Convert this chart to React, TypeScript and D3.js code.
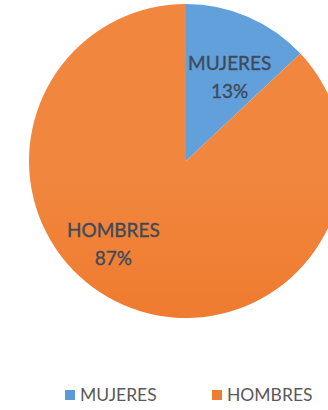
import React, { useEffect, useRef } from 'react';
import * as d3 from 'd3';

const categories = ['MUJERES', 'HOMBRES'];
const values = [13, 87];
const colors = ['#5B9BD5', '#ED7D31'];

const App: React.FC = () => {
  const svgRef = useRef<SVGSVGElement>(null);

  useEffect(() => {
    if (!svgRef.current) return;
    const svg = d3.select(svgRef.current);
    svg.selectAll('*').remove();

    const width = 328;
    const height = 410;
    const cx = 186;
    const cy = 161;
    const r = 157;

    svg.attr('viewBox', `0 0 ${width} ${height}`);

    // soft vertical gradients like the office chart
    const defs = svg.append('defs');
    const grads = [
      { id: 'g0', top: '#62A0DC', bottom: '#3E8CE0' },
      { id: 'g1', top: '#F1873F', bottom: '#EC6F1E' },
    ];
    grads.forEach(g => {
      const lg = defs.append('linearGradient')
        .attr('id', g.id)
        .attr('gradientUnits', 'userSpaceOnUse')
        .attr('x1', 0).attr('y1', cy - r)
        .attr('x2', 0).attr('y2', cy + r);
      lg.append('stop').attr('offset', '0%').attr('stop-color', g.top);
      lg.append('stop').attr('offset', '100%').attr('stop-color', g.bottom);
    });

    const data = categories.map((c, i) => ({ name: c, value: values[i] }));
    const pie = d3.pie<{ name: string; value: number }>()
      .sort(null)
      .value(d => d.value);
    const arcs = pie(data);

    const arc = d3.arc<d3.PieArcDatum<{ name: string; value: number }>>()
      .innerRadius(0)
      .outerRadius(r);

    const g = svg.append('g').attr('transform', `translate(${cx},${cy})`);

    g.selectAll('path')
      .data(arcs)
      .enter()
      .append('path')
      .attr('d', arc)
      .attr('fill', (d, i) => `url(#g${i})`);

    const total = d3.sum(values);
    const labelArc = d3.arc<d3.PieArcDatum<{ name: string; value: number }>>()
      .innerRadius(r * 0.62)
      .outerRadius(r * 0.62);

    // best-fit nudges, excel style
    const nudge = [[5, 0], [-34, -11]];
    arcs.forEach((a, i) => {
      let [lx, ly] = labelArc.centroid(a);
      lx += nudge[i][0];
      ly += nudge[i][1];
      const t = g.append('text')
        .attr('text-anchor', 'middle')
        .attr('font-family', 'Lato, "Open Sans", sans-serif')
        .attr('font-size', 19)
        .attr('fill', '#3E4A5A')
        .attr('stroke', '#3E4A5A')
        .attr('stroke-width', 0.35);
      t.append('tspan').attr('x', lx).attr('y', ly - 2).text(a.data.name);
      t.append('tspan').attr('x', lx).attr('y', ly + 26)
        .text(`${Math.round((a.data.value / total) * 100)}%`);
    });

    // legend
    const legend = svg.append('g').attr('transform', 'translate(0,401)');
    const items = [
      { x: 65, name: categories[0], color: colors[0] },
      { x: 212, name: categories[1], color: colors[1] },
    ];
    items.forEach(it => {
      legend.append('rect')
        .attr('x', it.x).attr('y', -11)
        .attr('width', 10).attr('height', 10)
        .attr('fill', it.color);
      legend.append('text')
        .attr('x', it.x + 15).attr('y', 0)
        .attr('font-family', 'Lato, "Open Sans", sans-serif')
        .attr('font-size', 17.5)
        .attr('fill', '#595959')
        .text(it.name);
    });
  }, []);

  return (
    <svg
      ref={svgRef}
      width={328}
      height={410}
      style={{ position: 'absolute', left: 0, top: 0, background: '#fff' }}
    ></svg>
  );
};

export default App;
